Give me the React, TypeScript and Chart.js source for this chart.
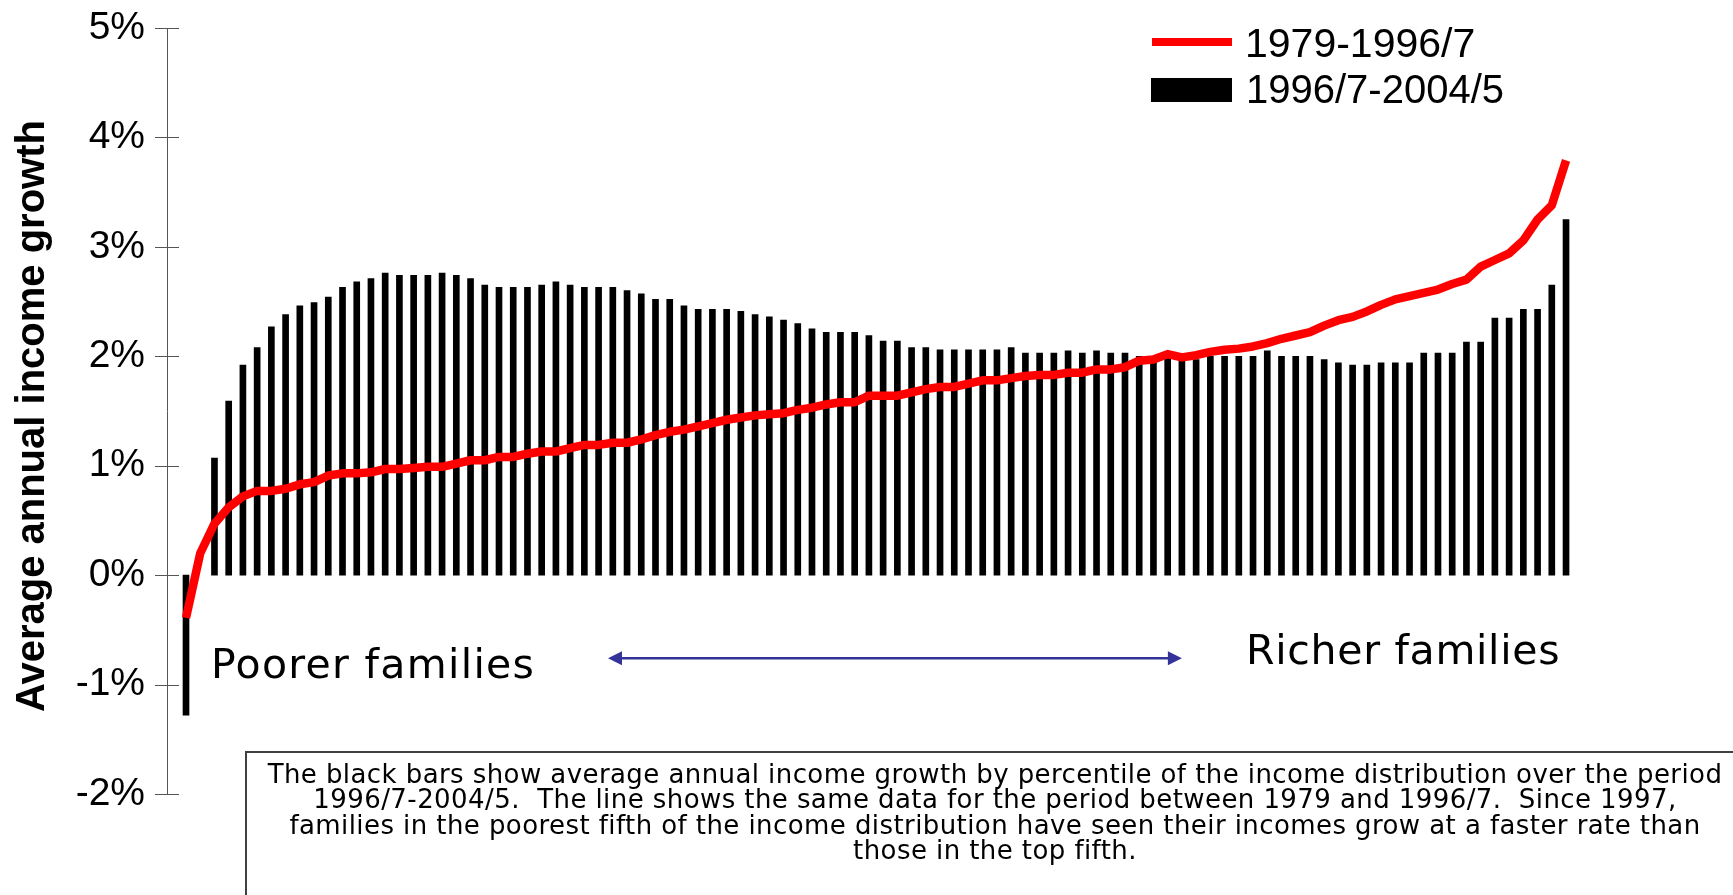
import React, { useEffect, useRef } from "react";
import { Chart, registerables } from "chart.js";

Chart.register(...registerables);

// Percentile positions along the income distribution (poorer -> richer)
const percentiles = [
  1, 2, 3, 4, 5, 6, 7, 8, 9, 10, 11, 12, 13, 14, 15, 16, 17, 18, 19, 20,
  21, 22, 23, 24, 25, 26, 27, 28, 29, 30, 31, 32, 33, 34, 35, 36, 37, 38, 39, 40,
  41, 42, 43, 44, 45, 46, 47, 48, 49, 50, 51, 52, 53, 54, 55, 56, 57, 58, 59, 60,
  61, 62, 63, 64, 65, 66, 67, 68, 69, 70, 71, 72, 73, 74, 75, 76, 77, 78, 79, 80,
  81, 82, 83, 84, 85, 86, 87, 88, 89, 90, 91, 92, 93, 94, 95, 96, 97, 98,
];

// Black bars: 1996/7-2004/5 average annual income growth (%)
const growth1997to2005: (number | null)[] = [
  -1.28, null, 1.07, 1.59, 1.92, 2.08, 2.27, 2.38, 2.46, 2.49,
  2.54, 2.63, 2.68, 2.71, 2.76, 2.74, 2.74, 2.74, 2.76, 2.74,
  2.71, 2.65, 2.63, 2.63, 2.63, 2.65, 2.68, 2.65, 2.63, 2.63,
  2.63, 2.6, 2.57, 2.52, 2.52, 2.46, 2.43, 2.43, 2.43, 2.41,
  2.38, 2.36, 2.33, 2.3, 2.25, 2.22, 2.22, 2.22, 2.19, 2.14,
  2.14, 2.08, 2.08, 2.06, 2.06, 2.06, 2.06, 2.06, 2.08, 2.03,
  2.03, 2.03, 2.05, 2.03, 2.05, 2.03, 2.03, 2.0, 2.0, 2.03,
  2.0, 1.97, 2.0, 2.0, 2.0, 2.0, 2.05, 2.0, 2.0, 2.0,
  1.97, 1.94, 1.92, 1.92, 1.94, 1.94, 1.94, 2.03, 2.03, 2.03,
  2.13, 2.13, 2.35, 2.35, 2.43, 2.43, 2.65, 3.25,
];

// Red line: 1979-1996/7 average annual income growth (%)
const growth1979to1997 = [
  -0.39, 0.2, 0.47, 0.62, 0.72, 0.77, 0.77, 0.79, 0.83, 0.85,
  0.91, 0.93, 0.93, 0.94, 0.97, 0.97, 0.98, 0.99, 0.99, 1.02,
  1.05, 1.05, 1.08, 1.08, 1.11, 1.13, 1.13, 1.16, 1.19, 1.19,
  1.21, 1.21, 1.24, 1.28, 1.31, 1.33, 1.36, 1.39, 1.42, 1.44,
  1.46, 1.47, 1.48, 1.51, 1.53, 1.56, 1.58, 1.58, 1.64, 1.64,
  1.64, 1.67, 1.7, 1.72, 1.72, 1.75, 1.78, 1.78, 1.8, 1.82,
  1.83, 1.83, 1.85, 1.85, 1.88, 1.88, 1.9, 1.96, 1.97, 2.02,
  1.99, 2.01, 2.04, 2.06, 2.07, 2.09, 2.12, 2.16, 2.19, 2.22,
  2.28, 2.33, 2.36, 2.41, 2.47, 2.52, 2.55, 2.58, 2.61, 2.66,
  2.7, 2.82, 2.88, 2.94, 3.06, 3.25, 3.38, 3.79,
];

const yMin = -2;
const yMax = 5;
const yStep = 1;

const legendLabels = ["1979-1996/7", "1996/7-2004/5"];
const yAxisTitle = "Average annual income growth";
const poorerLabel = "Poorer families";
const richerLabel = "Richer families";
const noteLines = [
  "The black bars show average annual income growth by percentile of the income distribution over the period",
  "1996/7-2004/5.  The line shows the same data for the period between 1979 and 1996/7.  Since 1997,",
  "families in the poorest fifth of the income distribution have seen their incomes grow at a faster rate than",
  "those in the top fifth.",
];

// Double-headed arrow, in data coordinates (percentile, %)
const arrowFrom = { x: 30.66, y: -0.76 };
const arrowTo = { x: 71.0, y: -0.76 };

const SANS = '"Liberation Sans", Arial, sans-serif';
const HUMAN = '"DejaVu Sans", Verdana, sans-serif';

const crossTicksPlugin = {
  id: "crossTicks",
  afterDatasetsDraw(chart: any) {
    const y = chart.scales.y;
    const left = chart.chartArea.left;
    const ctx = chart.ctx;
    ctx.save();
    ctx.strokeStyle = "#555";
    ctx.lineWidth = 1;
    y.ticks.forEach((t: any) => {
      const py = Math.round(y.getPixelForValue(t.value)) + 0.5;
      ctx.beginPath();
      ctx.moveTo(left - 12, py);
      ctx.lineTo(left + 12, py);
      ctx.stroke();
    });
    ctx.restore();
  },
};

const arrowPlugin = {
  id: "arrow",
  afterDraw(chart: any) {
    const xs = chart.scales.x;
    const ys = chart.scales.y;
    const x1 = xs.getPixelForValue(arrowFrom.x);
    const x2 = xs.getPixelForValue(arrowTo.x);
    const py = ys.getPixelForValue(arrowFrom.y);
    const ctx = chart.ctx;
    const head = 14;
    const half = 7;
    ctx.save();
    ctx.strokeStyle = "#333399";
    ctx.fillStyle = "#333399";
    ctx.lineWidth = 2.5;
    ctx.beginPath();
    ctx.moveTo(x1 + head - 2, py);
    ctx.lineTo(x2 - head + 2, py);
    ctx.stroke();
    ctx.beginPath();
    ctx.moveTo(x1, py);
    ctx.lineTo(x1 + head, py - half);
    ctx.lineTo(x1 + head, py + half);
    ctx.closePath();
    ctx.fill();
    ctx.beginPath();
    ctx.moveTo(x2, py);
    ctx.lineTo(x2 - head, py - half);
    ctx.lineTo(x2 - head, py + half);
    ctx.closePath();
    ctx.fill();
    ctx.restore();
  },
};

export default function App() {
  const canvasRef = useRef<HTMLCanvasElement>(null);

  useEffect(() => {
    const canvas = canvasRef.current;
    if (!canvas) return;
    const barPoints = percentiles
      .map((p, i) => ({ x: p, y: growth1997to2005[i] }))
      .filter((pt) => pt.y !== null);
    const linePoints = percentiles.map((p, i) => ({ x: p, y: growth1979to1997[i] }));

    const chart = new Chart(canvas, {
      type: "bar",
      data: {
        datasets: [
          {
            type: "line",
            label: legendLabels[0],
            data: linePoints as any,
            borderColor: "#FF0000",
            backgroundColor: "#FF0000",
            borderWidth: 8.5,
            pointRadius: 0,
            tension: 0,
            borderJoinStyle: "round",
            clip: false as any,
            order: 0,
          } as any,
          {
            type: "bar",
            label: legendLabels[1],
            data: barPoints as any,
            backgroundColor: "#000000",
            borderWidth: 0,
            barThickness: 6,
            order: 1,
          } as any,
        ],
      },
      options: {
        responsive: false,
        animation: false,
        layout: { padding: { top: 28, bottom: 101, left: 0, right: 143 } },
        plugins: {
          legend: { display: false },
          tooltip: { enabled: false },
        },
        scales: {
          x: {
            type: "linear",
            min: -0.336,
            max: 99.685,
            bounds: "data",
            offset: false,
            display: false,
          },
          y: {
            type: "linear",
            min: yMin,
            max: yMax,
            ticks: {
              stepSize: yStep,
              callback: (v: any) => `${v}%`,
              font: { family: SANS, size: 39 },
              color: "#000",
              padding: 22,
            },
            grid: { display: false, drawTicks: false },
            border: { display: true, color: "#555", width: 1 },
            afterFit: (s: any) => {
              s.width = 167;
              s.paddingTop = 0;
              s.paddingBottom = 0;
            },
          },
        },
      } as any,
      plugins: [crossTicksPlugin, arrowPlugin],
    });
    return () => chart.destroy();
  }, []);

  return (
    <div
      style={{
        position: "fixed",
        left: 0,
        top: 0,
        width: 1733,
        height: 895,
        overflow: "hidden",
        background: "#fff",
      }}
    >
      <canvas
        ref={canvasRef}
        width={1733}
        height={895}
        style={{ position: "absolute", left: 0, top: 0, width: 1733, height: 895 }}
      />
      <div
        style={{
          position: "absolute",
          left: 28 - 300,
          top: 416 - 20,
          width: 600,
          height: 40,
          lineHeight: "40px",
          textAlign: "center",
          transform: "rotate(-90deg)",
          font: `bold 40px ${SANS}`,
          color: "#000",
          whiteSpace: "nowrap",
        }}
      >
        {yAxisTitle}
      </div>

      {/* legend */}
      <div style={{ position: "absolute", left: 1152, top: 38, width: 80, height: 8, background: "#FF0000" }} />
      <div style={{ position: "absolute", left: 1151, top: 78, width: 81, height: 24, background: "#000" }} />
      <div
        style={{
          position: "absolute",
          left: 1245,
          top: 22.5,
          font: `41px ${SANS}`,
          lineHeight: "41px",
          whiteSpace: "nowrap",
          color: "#000",
        }}
      >
        {legendLabels[0]}
      </div>
      <div
        style={{
          position: "absolute",
          left: 1246,
          top: 69,
          font: `40px ${SANS}`,
          lineHeight: "41px",
          whiteSpace: "nowrap",
          color: "#000",
        }}
      >
        {legendLabels[1]}
      </div>

      <div
        style={{
          position: "absolute",
          left: 211,
          top: 644,
          font: `41px ${HUMAN}`,
          lineHeight: "41px",
          letterSpacing: "1.3px",
          whiteSpace: "nowrap",
          color: "#000",
        }}
      >
        {poorerLabel}
      </div>
      <div
        style={{
          position: "absolute",
          left: 1246,
          top: 630,
          font: `41px ${HUMAN}`,
          lineHeight: "41px",
          letterSpacing: "0.7px",
          whiteSpace: "nowrap",
          color: "#000",
        }}
      >
        {richerLabel}
      </div>

      <div
        style={{
          position: "absolute",
          left: 245,
          top: 751,
          width: 1500,
          height: 200,
          border: "2px solid #404040",
          boxSizing: "border-box",
          paddingTop: 9,
          fontFamily: HUMAN,
          fontSize: 26,
          lineHeight: "25.4px",
          letterSpacing: "0.42px",
          textAlign: "center",
          whiteSpace: "pre",
          color: "#000",
        }}
      >
        {noteLines.map((l) => (
          <div key={l}>{l}</div>
        ))}
      </div>
    </div>
  );
}
